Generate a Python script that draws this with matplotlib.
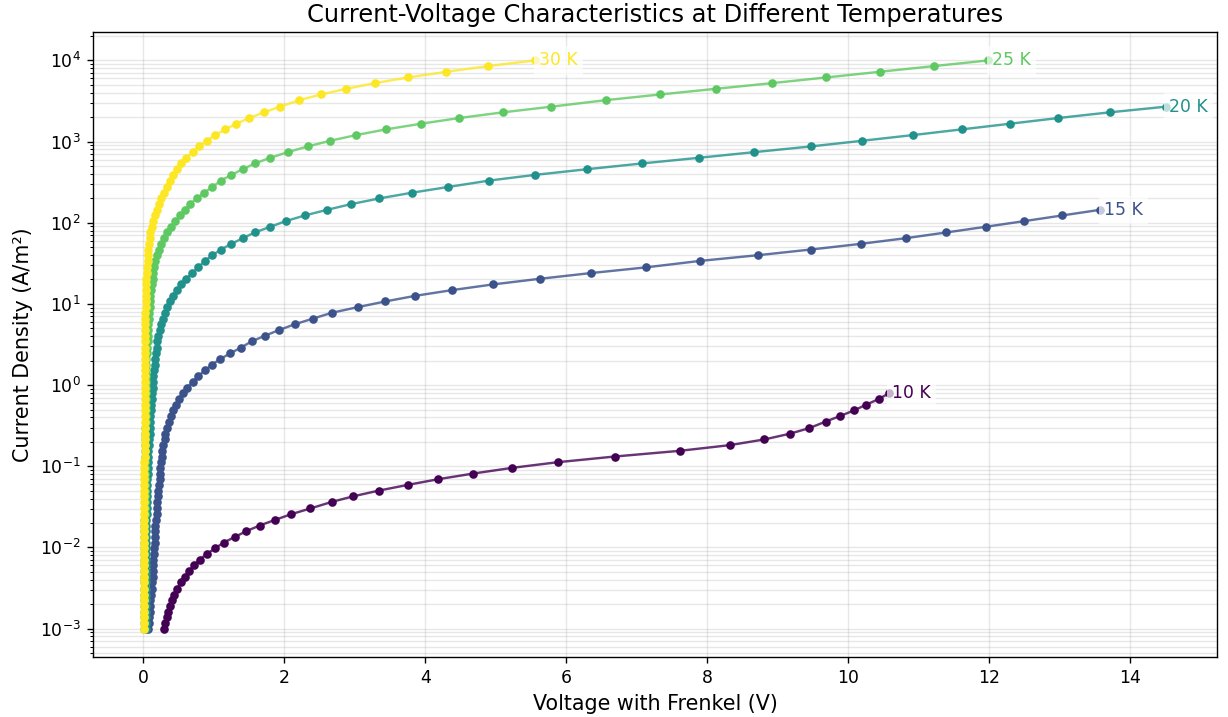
import matplotlib
matplotlib.use("Agg")
import matplotlib.pyplot as plt
import numpy as np

# log10 of current density grid (A/m^2), shared by all temperatures
log_j = [-3.00, -2.93, -2.86, -2.79, -2.72, -2.65, -2.58, -2.51, -2.43, -2.36,
         -2.29, -2.22, -2.15, -2.08, -2.01, -1.94, -1.87, -1.80, -1.73, -1.66,
         -1.59, -1.52, -1.44, -1.37, -1.30, -1.23, -1.16, -1.09, -1.02, -0.95,
         -0.88, -0.81, -0.74, -0.67, -0.60, -0.53, -0.45, -0.38, -0.31, -0.24,
         -0.17, -0.10, -0.03, 0.04, 0.11, 0.18, 0.25, 0.32, 0.39, 0.46,
         0.54, 0.61, 0.68, 0.75, 0.82, 0.89, 0.96, 1.03, 1.10, 1.17,
         1.24, 1.31, 1.38, 1.45, 1.53, 1.60, 1.67, 1.74, 1.81, 1.88,
         1.95, 2.02, 2.09, 2.16, 2.23, 2.30, 2.37, 2.44, 2.52, 2.59,
         2.66, 2.73, 2.80, 2.87, 2.94, 3.01, 3.08, 3.15, 3.22, 3.29,
         3.36, 3.43, 3.51, 3.58, 3.65, 3.72, 3.79, 3.86, 3.93, 4.00]

temps = [10, 15, 20, 25, 30]

# voltage (V) for each point of the grid, per temperature
v_10 = [0.29, 0.31, 0.33, 0.35, 0.38, 0.41, 0.44, 0.48, 0.53, 0.59,
        0.65, 0.72, 0.80, 0.90, 1.02, 1.14, 1.30, 1.46, 1.65, 1.87,
        2.10, 2.37, 2.67, 2.98, 3.34, 3.75, 4.18, 4.68, 5.23, 5.88,
        6.69, 7.61, 8.32, 8.81, 9.17, 9.45, 9.68, 9.89, 10.09, 10.26,
        10.44, 10.58]

v_15 = [0.07, 0.08, 0.08, 0.09, 0.10, 0.10, 0.11, 0.12, 0.12, 0.13,
        0.13, 0.14, 0.14, 0.15, 0.15, 0.16, 0.16, 0.17, 0.17, 0.18,
        0.19, 0.19, 0.20, 0.21, 0.21, 0.22, 0.23, 0.23, 0.24, 0.25,
        0.26, 0.27, 0.28, 0.30, 0.31, 0.33, 0.36, 0.39, 0.42, 0.46,
        0.51, 0.56, 0.62, 0.70, 0.78, 0.87, 0.97, 1.09, 1.23, 1.38,
        1.54, 1.73, 1.93, 2.15, 2.41, 2.67, 3.04, 3.43, 3.86, 4.38,
        4.96, 5.63, 6.35, 7.13, 7.90, 8.72, 9.47, 10.18, 10.82, 11.39,
        11.95, 12.50, 13.04, 13.58]

v_20 = [0.03, 0.03, 0.03, 0.03, 0.03, 0.03, 0.03, 0.03, 0.03, 0.03,
        0.04, 0.04, 0.04, 0.04, 0.04, 0.04, 0.04, 0.04, 0.04, 0.04,
        0.05, 0.05, 0.05, 0.05, 0.05, 0.05, 0.05, 0.06, 0.06, 0.06,
        0.07, 0.07, 0.08, 0.08, 0.09, 0.09, 0.10, 0.10, 0.11, 0.11,
        0.12, 0.12, 0.13, 0.13, 0.14, 0.15, 0.16, 0.17, 0.18, 0.19,
        0.20, 0.21, 0.23, 0.25, 0.28, 0.31, 0.34, 0.38, 0.42, 0.47,
        0.54, 0.61, 0.69, 0.78, 0.87, 0.98, 1.10, 1.25, 1.41, 1.58,
        1.80, 2.02, 2.29, 2.61, 2.95, 3.35, 3.81, 4.32, 4.91, 5.56,
        6.30, 7.07, 7.88, 8.67, 9.47, 10.20, 10.92, 11.61, 12.30, 12.98,
        13.71, 14.51]

v_25 = [0.01, 0.01, 0.01, 0.01, 0.01, 0.01, 0.01, 0.01, 0.01, 0.01,
        0.01, 0.01, 0.01, 0.01, 0.01, 0.01, 0.01, 0.01, 0.01, 0.01,
        0.02, 0.02, 0.02, 0.02, 0.02, 0.02, 0.02, 0.02, 0.02, 0.02,
        0.02, 0.02, 0.02, 0.02, 0.02, 0.02, 0.03, 0.03, 0.03, 0.03,
        0.03, 0.03, 0.03, 0.03, 0.03, 0.03, 0.04, 0.04, 0.05, 0.05,
        0.06, 0.06, 0.07, 0.07, 0.08, 0.08, 0.09, 0.09, 0.10, 0.11,
        0.12, 0.13, 0.14, 0.15, 0.17, 0.19, 0.22, 0.25, 0.29, 0.34,
        0.39, 0.45, 0.52, 0.59, 0.66, 0.76, 0.86, 0.98, 1.10, 1.25,
        1.41, 1.58, 1.80, 2.05, 2.33, 2.65, 3.02, 3.44, 3.94, 4.48,
        5.10, 5.79, 6.56, 7.33, 8.12, 8.92, 9.69, 10.45, 11.22, 11.99]

v_30 = [0.01, 0.01, 0.01, 0.01, 0.01, 0.01, 0.01, 0.01, 0.01, 0.01,
        0.01, 0.01, 0.01, 0.01, 0.01, 0.01, 0.01, 0.01, 0.01, 0.01,
        0.01, 0.01, 0.01, 0.01, 0.01, 0.01, 0.01, 0.01, 0.01, 0.01,
        0.02, 0.02, 0.02, 0.02, 0.02, 0.02, 0.02, 0.02, 0.02, 0.02,
        0.02, 0.02, 0.02, 0.02, 0.02, 0.02, 0.02, 0.02, 0.02, 0.02,
        0.02, 0.02, 0.02, 0.02, 0.02, 0.02, 0.03, 0.03, 0.03, 0.03,
        0.04, 0.04, 0.05, 0.05, 0.06, 0.06, 0.07, 0.08, 0.09, 0.10,
        0.12, 0.14, 0.16, 0.19, 0.22, 0.25, 0.29, 0.33, 0.38, 0.42,
        0.48, 0.54, 0.61, 0.70, 0.79, 0.90, 1.02, 1.16, 1.32, 1.50,
        1.71, 1.94, 2.21, 2.52, 2.88, 3.28, 3.76, 4.30, 4.89, 5.56]

voltages = [v_10, v_15, v_20, v_25, v_30]

fig, ax = plt.subplots(figsize=(1228 / 124, 717 / 124), dpi=124)
fig.subplots_adjust(left=93 / 1228, right=1217 / 1228, bottom=1 - 657 / 717, top=1 - 32 / 717)

colors = plt.cm.viridis(np.linspace(0, 1, len(temps)))
j_all = 10 ** np.array(log_j)

for t, v, c in zip(temps, voltages, colors):
    j = j_all[:len(v)]
    ax.plot(v, j, '-', color=c, lw=1.4, alpha=0.8)
    ax.plot(v, j, 'o', color=c, ms=4)
    ax.text(v[-1] + 0.05, j[-1], f'{t} K', color=c, fontsize=10, va='center', ha='left',
            bbox=dict(facecolor='white', edgecolor='none', alpha=0.7, pad=3))

ax.set_yscale('log')
ax.set_xlabel('Voltage with Frenkel (V)', fontsize=12)
ax.set_ylabel('Current Density (A/m²)', fontsize=12)
ax.set_title('Current-Voltage Characteristics at Different Temperatures', fontsize=14)
ax.grid(True, which='both', ls='-', alpha=0.3)

fig.savefig('out.png', dpi=124)
